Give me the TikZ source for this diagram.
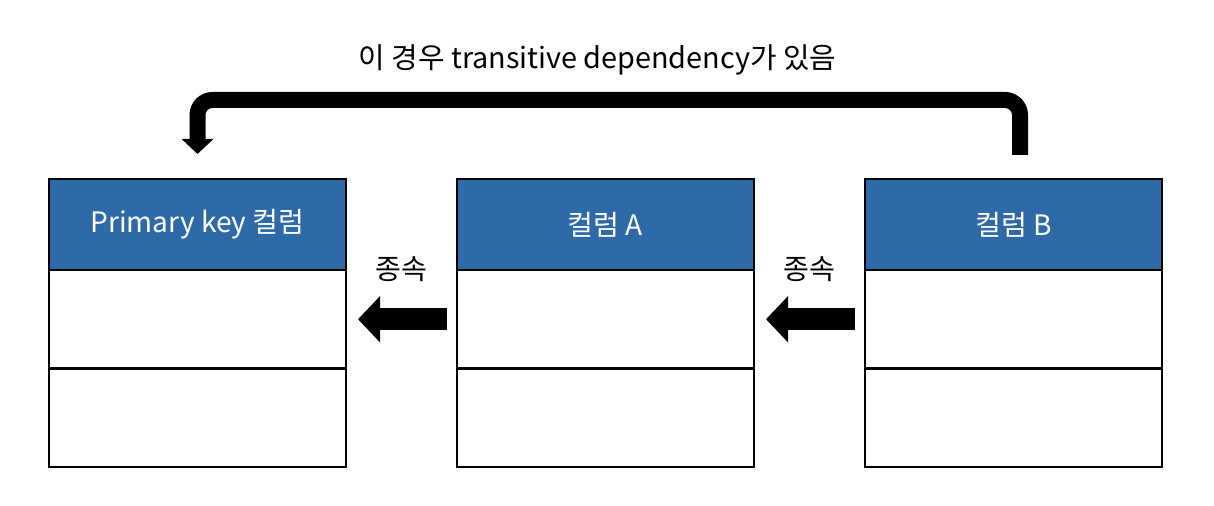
\documentclass[tikz,border=0pt]{standalone}
\usepackage{fontspec}
\setmainfont{Noto Sans CJK KR}
\usepackage{xcolor}
\usepackage{tikz}
\usetikzlibrary{arrows.meta, positioning}
\definecolor{entete}{RGB}{46,106,168}

\begin{document}
\begin{tikzpicture}[
        % Styles
        node distance = 1.11cm, % Distance entre les tables
        every node/.style = {font=\fontsize{8}{10}\selectfont},
        % En-tete bleu de chaque table
        head/.style = {
            rectangle,
            draw=black,
            line width=0.6pt,
            fill=entete,
            text=white,
            minimum width=2.97cm,
            minimum height=0.91cm,
            inner sep=0pt,
            outer sep=0pt
        },
        % Cellule vide sous l'en-tete
        cell/.style = {
            rectangle,
            draw=black,
            line width=0.6pt,
            fill=white,
            minimum width=2.97cm,
            minimum height=0.985cm,
            inner sep=0pt,
            outer sep=0pt
        },
        % Fleche de dependance (epaisse)
        dep/.style = {
            -{Triangle[length=0.22cm, width=0.45cm]},
            line width=0.22cm,
            shorten <=0.1cm,
            shorten >=0.12cm
        },
        % Fleche coudee du haut
        trans/.style = {
            -{Triangle[length=0.15cm, width=0.31cm]},
            line width=0.16cm,
            rounded corners=0.15cm
        }
    ]
    \useasboundingbox (0,0) rectangle (12.14,5.06);

    % 1. Les tables
    \node (pk)    [head] at (1.975,2.815) {Primary key 컬럼};
    \node (pk1)   [cell, below=0cm of pk] {};
    \node (pk2)   [cell, below=0cm of pk1] {};

    \node (cola)  [head, right=of pk] {컬럼 A};
    \node (cola1) [cell, below=0cm of cola] {};
    \node (cola2) [cell, below=0cm of cola1] {};

    \node (colb)  [head, right=of cola] {컬럼 B};
    \node (colb1) [cell, below=0cm of colb] {};
    \node (colb2) [cell, below=0cm of colb1] {};

    % 2. Les fleches
    \draw [dep] (cola1.west) -- (pk1.east) node [midway, above=0.15cm] (lab1) {종속};
    \draw [dep] (colb1.west) -- (cola1.east) node [midway, above=0.15cm] (lab2) {종속};
    \draw [trans] ([xshift=0.065cm, yshift=0.24cm]colb.north) -- ++(0,0.55) -| ([yshift=0.25cm]pk.north);

    % 3. Titre
    \node (title) [above=0.91cm of cola, xshift=-0.08cm, font=\fontsize{8.2}{10}\selectfont] {이 경우 transitive dependency가 있음};

\end{tikzpicture}
\end{document}
